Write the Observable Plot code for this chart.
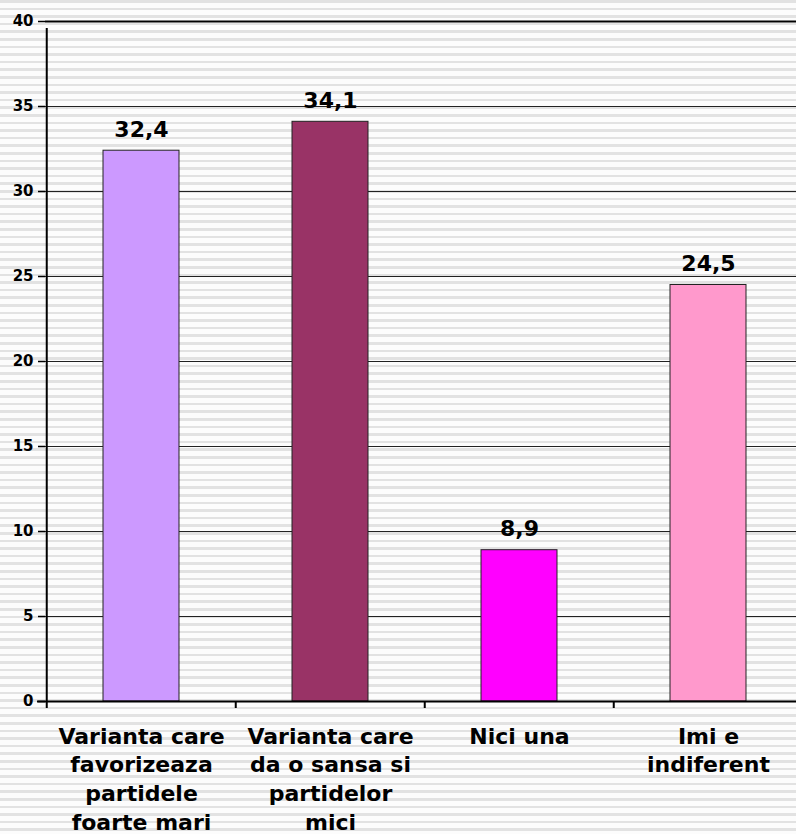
<!DOCTYPE html>
<html>
<head>
<meta charset="utf-8">
<script src="https://cdn.jsdelivr.net/npm/d3@7"></script>
<script src="https://cdn.jsdelivr.net/npm/@observablehq/plot@0.6"></script>
<style>
  html, body { margin: 0; padding: 0; overflow: hidden; }
  body {
    width: 796px; height: 834px;
    background-color: #fcfcfc;
    background-image: repeating-linear-gradient(to bottom, #e2e2e2 0px, #e2e2e2 2.5px, #fcfcfc 2.5px, #fcfcfc 7.6px);
    font-family: "DejaVu Sans", Verdana, sans-serif;
  }
</style>
</head>
<body>
<div id="chart"></div>
<script>
const categories = [
  "Varianta care\nfavorizeaza\npartidele\nfoarte mari",
  "Varianta care\nda o sansa si\npartidelor\nmici",
  "Nici una",
  "Imi e\nindiferent"
];
const values = [32.4, 34.1, 8.9, 24.5];
const colors = ["#cc99ff", "#993366", "#ff00ff", "#ff99cc"];
const yTicks = [0, 5, 10, 15, 20, 25, 30, 35, 40];
const gridTicks = [5, 10, 15, 20, 25, 30, 35];

const data = categories.map((c, i) => ({cat: c, value: values[i], color: colors[i]}));
const fmt = v => d3.format(".1f")(v).replace(".", ",");

const left = 45, right = 803, step = (right - left) / 4;

const chart = Plot.plot({
  width: 796,
  height: 834,
  marginTop: 21,
  marginBottom: 133,
  marginLeft: 45,
  marginRight: 0,
  style: {background: "transparent", overflow: "hidden", fontFamily: "'DejaVu Sans', Verdana, sans-serif"},
  x: {domain: categories, range: [left, right], paddingInner: 0.6, paddingOuter: 0.3, align: 0.5},
  y: {domain: [0, 40], range: [701, 21]},
  marks: [
    Plot.ruleY(gridTicks, {stroke: "#222", strokeWidth: 1}),
    Plot.ruleY([40], {stroke: "#000", strokeWidth: 2}),
    Plot.barY(data, {x: "cat", y: "value", fill: "color", stroke: "#222", strokeWidth: 1}),
    Plot.text(data, {x: "cat", y: "value", text: d => fmt(d.value), dy: -21, fontSize: 22, fontWeight: "bold", fill: "#000", lineAnchor: "middle"}),
    Plot.ruleY([0], {stroke: "#000", strokeWidth: 2, insetLeft: -8}),
    Plot.ruleX(categories, {x: d => d, dx: -step / 2, y1: 0, y2: 0, insetBottom: -7, stroke: "#000", strokeWidth: 2}),
    Plot.ruleX([categories[0]], {x: d => d, dx: -step / 2, y1: 0, y2: 40, insetBottom: -7, stroke: "#000", strokeWidth: 2}),
    Plot.axisY({ticks: yTicks, tickSize: 7, tickPadding: 5, fontSize: 15, fontWeight: "bold", tickFormat: d => String(d), label: null, stroke: "#000", strokeWidth: 1.5, fill: "#000"}),
    Plot.axisX({tickSize: 0, tickPadding: 0, fontSize: 22, fontWeight: "bold", lineHeight: 1.3, label: null, fill: "#000", dy: 22, lineAnchor: "top"})
  ]
});
document.getElementById("chart").appendChild(chart);
</script>
</body>
</html>
